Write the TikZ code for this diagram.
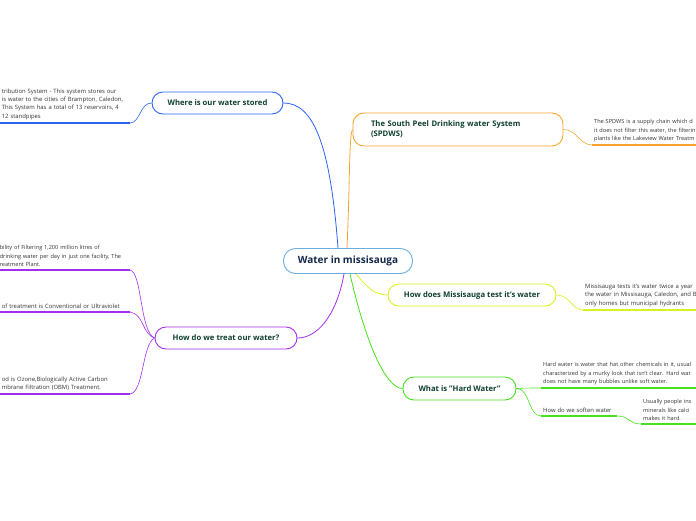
\documentclass[tikz,border=0pt]{standalone}
\usepackage{fontspec}
\setmainfont{Open Sans}
\usepackage{xcolor}
\definecolor{rootline}{HTML}{6AAEE0}
\definecolor{roottext}{HTML}{13284D}
\definecolor{topictext}{HTML}{0F4030}
\definecolor{leaftext}{HTML}{333333}
\definecolor{bluec}{HTML}{2B63F5}
\definecolor{orangec}{HTML}{F7A531}
\definecolor{limec}{HTML}{D9F21C}
\definecolor{greenc}{HTML}{47E01E}
\definecolor{purplec}{HTML}{A22FF0}
\usetikzlibrary{positioning}

\begin{document}
\begin{tikzpicture}[
  x=1pt, y=-1pt,
  root/.style={draw=rootline, fill=white, rounded corners=12pt, line width=0.9pt,
               minimum width=129pt, minimum height=25pt, text=roottext,
               font=\fontsize{10}{12}\selectfont\bfseries},
  topic/.style={draw, fill=white, rounded corners=11pt, line width=0.9pt,
                minimum height=22pt, text=topictext,
                font=\fontsize{7.7}{10}\selectfont\bfseries},
  leaf/.style={text=leaftext, align=left, inner xsep=2pt, inner ysep=3pt,
               font=\fontsize{5.9}{8.4}\selectfont},
  smallleaf/.style={leaf, font=\fontsize{5.6}{8.4}\selectfont},
  link/.style={line width=0.8pt},
  sublink/.style={line width=0.6pt},
  uline/.style={line width=1.3pt}
]
\useasboundingbox (0,0) rectangle (696,520);
\clip (0,0) rectangle (696,520);

\node[root] (water) at (348,261) {Water in missisauga};

\node[topic, draw=bluec, minimum width=131pt] (stored) at (217.5,103) {Where is our water stored};
\node[topic, draw=orangec, text width=174pt, inner xsep=18pt, align=left, minimum height=33pt] (spdws) at (458,129.5)
  {The South Peel Drinking water System\\(SPDWS)};
\node[topic, draw=limec, minimum width=168pt] (test) at (472,295) {How does Missisauga test it's water};
\node[topic, draw=greenc, minimum width=113pt, minimum height=23pt] (hard) at (459.5,388.5) {What is "Hard Water"};
\node[topic, draw=purplec, minimum width=142pt] (treat) at (226,338) {How do we treat our water?};

\node[leaf, anchor=south east, text width=126pt] (storedtxt) at (130,123)
  {tribution System - This system stores our\\is water to the cities of Brampton, Caledon,\\This System has a total of 13 reservoirs, 4\\12 standpipes};
\node[smallleaf, anchor=south west, text width=120pt] (spdwstxt) at (592,145)
  {The SPDWS is a supply chain which d\\it does not filter this water, the filterin\\plants like the Lakeview Water Treatm};
\node[leaf, anchor=south west, text width=120pt] (testtxt) at (583,310)
  {Missisauga tests it's water twice a year\\the water in Missisauga, Caledon, and B\\only homes but municipal hydrants};
\node[smallleaf, anchor=south west, text width=160pt] (hardtxt) at (541,388)
  {Hard water is water that hat other chemicals in it, usual\\characterized by a murky look that isn't clear. Hard wat\\does not have many bubbles unlike soft water.};
\node[leaf, anchor=south west, text width=72pt] (softtxt) at (541,416) {How do we soften water};
\node[smallleaf, anchor=south west, text width=60pt] (usuallytxt) at (641,424)
  {Usually people ins\\minerals like calci\\makes it hard.};
\node[smallleaf, anchor=south east, text width=130pt, inner xsep=0pt] (treatone) at (130,270)
  {bility of Filtering 1,200 million litres of\\drinking water per day in just one facility, The\\reatment Plant.};
\node[leaf, anchor=south east, text width=126pt] (treattwo) at (130,312)
  {of treatment is Conventional or Ultraviolet};
\node[leaf, anchor=south east, text width=126pt] (treatthree) at (130,394)
  {od is Ozone,Biologically Active Carbon\\mbrane Filtration (OBM) Treatment.};

\draw[link, bluec] ([xshift=-10pt]water.north) .. controls (330,140) and (312,103) .. (stored.east);
\draw[link, orangec] ([xshift=-1pt]water.north) .. controls (350,180) and (349,135) .. (spdws.west);
\draw[link, limec] ([xshift=8pt]water.south) .. controls (366,286) and (374,295) .. (test.west);
\draw[link, greenc] ([xshift=2pt]water.south) .. controls (365,340) and (385,388) .. (hard.west);
\draw[link, purplec] ([xshift=-4pt]water.south) .. controls (336,318) and (316,338) .. (treat.east);

\draw[sublink, bluec] (stored.west) .. controls (140,103) and (140,123) .. (storedtxt.south east);
\draw[uline, bluec] (storedtxt.south east) -- (storedtxt.south west);
\draw[sublink, orangec] (spdws.east) .. controls (576,129) and (580,145) .. (spdwstxt.south west);
\draw[uline, orangec] (spdwstxt.south west) -- (spdwstxt.south east);
\draw[sublink, limec] (test.east) .. controls (570,295) and (572,310) .. (testtxt.south west);
\draw[uline, limec] (testtxt.south west) -- (testtxt.south east);
\draw[sublink, greenc] (hard.east) .. controls (526,388) and (530,388) .. (hardtxt.south west);
\draw[uline, greenc] (hardtxt.south west) -- (hardtxt.south east);
\draw[sublink, greenc] (hard.east) .. controls (530,388) and (528,416) .. (softtxt.south west);
\draw[uline, greenc] (softtxt.south west) -- (softtxt.south east);
\draw[sublink, greenc] (softtxt.south east) .. controls (630,416) and (628,424) .. (usuallytxt.south west);
\draw[uline, greenc] (usuallytxt.south west) -- (usuallytxt.south east);
\draw[sublink, purplec] (treat.west) .. controls (140,332) and (142,272) .. (treatone.south east);
\draw[uline, purplec] (treatone.south east) -- (treatone.south west);
\draw[sublink, purplec] (treat.west) .. controls (142,334) and (144,314) .. (treattwo.south east);
\draw[uline, purplec] (treattwo.south east) -- (treattwo.south west);
\draw[sublink, purplec] (treat.west) .. controls (142,344) and (144,392) .. (treatthree.south east);
\draw[uline, purplec] (treatthree.south east) -- (treatthree.south west);
\end{tikzpicture}
\end{document}
